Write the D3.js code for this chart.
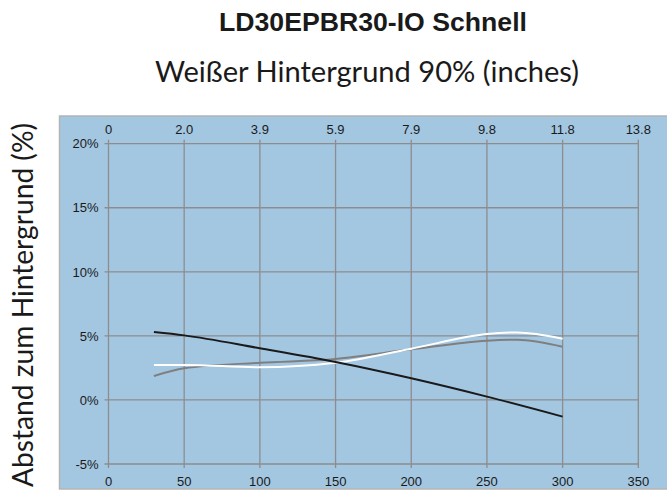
<!DOCTYPE html>
<html><head><meta charset="utf-8">
<script src="https://cdn.jsdelivr.net/npm/d3@7"></script>
<style>body{margin:0;background:#fff}svg{display:block}</style>
</head><body>
<svg id="c" width="667" height="495"></svg>
<script>
const title = "LD30EPBR30-IO Schnell";
const subtitle = "Weißer Hintergrund 90% (inches)";
const yLabel = "Abstand zum Hintergrund (%)";
const xTicks = [0, 50, 100, 150, 200, 250, 300, 350];
const xTopLabels = ["0", "2.0", "3.9", "5.9", "7.9", "9.8", "11.8", "13.8"];
const yTicks = [-5, 0, 5, 10, 15, 20];
const blackX = [30, 50, 100, 150, 200, 250, 300];
const blackY = [5.3, 5.04, 4.03, 2.96, 1.69, 0.26, -1.3];
const whiteX = [30, 50, 100, 150, 200, 250, 270, 300];
const whiteY = [2.73, 2.73, 2.55, 2.9, 4.0, 5.14, 5.27, 4.78];
const grayX = [30, 50, 100, 150, 200, 250, 270, 300];
const grayY = [1.87, 2.47, 2.9, 3.2, 3.95, 4.62, 4.7, 4.15];

const svg = d3.select("#c");
const x = d3.scaleLinear().domain([0, 350]).range([108.5, 638.3]);
const y = d3.scaleLinear().domain([-5, 20]).range([464, 143.7]);

svg.append("rect").attr("x", 59.5).attr("y", 116).attr("width", 610).attr("height", 373)
  .attr("fill", "#a3c6e1").attr("stroke", "#b4b4b4").attr("stroke-width", 1.5);

const gridColor = "#8d8d8d";
svg.append("g").selectAll("line").data(xTicks).join("line")
  .attr("x1", d => x(d)).attr("x2", d => x(d))
  .attr("y1", y(20) - 4).attr("y2", y(-5) + 4)
  .attr("stroke", gridColor).attr("stroke-width", 1.3);
svg.append("g").selectAll("line").data(yTicks).join("line")
  .attr("x1", x(0) - 4).attr("x2", x(350))
  .attr("y1", d => y(d)).attr("y2", d => y(d))
  .attr("stroke", gridColor).attr("stroke-width", 1.3);

const font = "'Liberation Sans', Arial, Helvetica, sans-serif";
svg.append("g").selectAll("text").data(xTicks).join("text")
  .attr("x", d => x(d)).attr("y", 486).attr("text-anchor", "middle")
  .attr("font-family", font).attr("font-size", 13).attr("fill", "#1a1a1a")
  .text(d => d);
svg.append("g").selectAll("text").data(xTicks).join("text")
  .attr("x", d => x(d)).attr("y", 134).attr("text-anchor", "middle")
  .attr("font-family", font).attr("font-size", 13).attr("fill", "#1a1a1a")
  .text((d, i) => xTopLabels[i]);
svg.append("g").selectAll("text").data(yTicks).join("text")
  .attr("x", 98.5).attr("y", d => y(d) + 4.7).attr("text-anchor", "end")
  .attr("font-family", font).attr("font-size", 13).attr("fill", "#1a1a1a")
  .text(d => d + "%");

const line = d3.line().x(d => x(d[0])).y(d => y(d[1])).curve(d3.curveMonotoneX);
const series = [
  {xs: grayX, ys: grayY, color: "#7f7f7f"},
  {xs: whiteX, ys: whiteY, color: "#ffffff"},
  {xs: blackX, ys: blackY, color: "#1a1a1a"}
];
series.forEach(s => {
  svg.append("path").datum(s.xs.map((v, i) => [v, s.ys[i]]))
    .attr("d", line).attr("fill", "none").attr("stroke", s.color).attr("stroke-width", 2);
});

svg.append("text").attr("x", 373).attr("y", 31).attr("text-anchor", "middle")
  .attr("font-family", font).attr("font-weight", "bold").attr("font-size", 25).attr("fill", "#1a1a1a")
  .attr("textLength", 308).attr("lengthAdjust", "spacingAndGlyphs")
  .text(title);
svg.append("text").attr("x", 367).attr("y", 82).attr("text-anchor", "middle")
  .attr("font-family", "Lato, 'Open Sans', sans-serif").attr("font-size", 29).attr("fill", "#1a1a1a")
  .attr("textLength", 424).attr("lengthAdjust", "spacingAndGlyphs")
  .text(subtitle);
svg.append("text").attr("transform", "translate(33,305) rotate(-90)").attr("text-anchor", "middle")
  .attr("font-family", "Lato, 'Open Sans', sans-serif").attr("font-size", 28).attr("fill", "#1a1a1a")
  .attr("textLength", 364).attr("lengthAdjust", "spacingAndGlyphs")
  .text(yLabel);
</script>
</body></html>
